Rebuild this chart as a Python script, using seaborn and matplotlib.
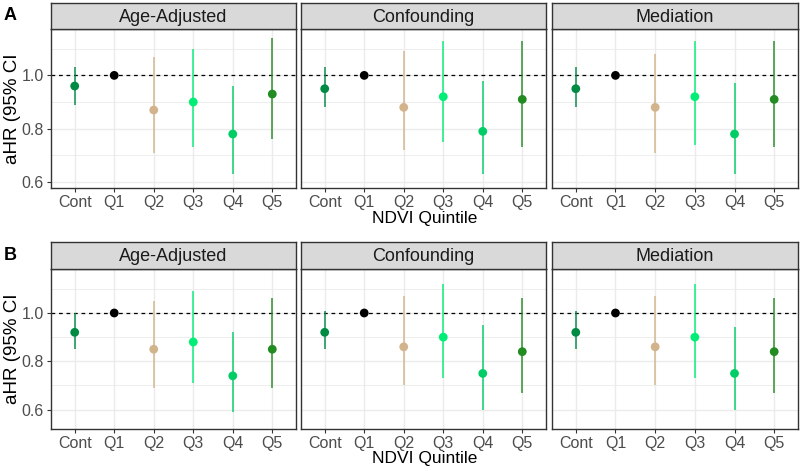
import pandas as pd
import matplotlib.pyplot as plt
import seaborn as sns
from matplotlib.ticker import MultipleLocator

sns.set_theme(style="white")
plt.rcParams["font.family"] = ["Liberation Sans", "DejaVu Sans"]

# ---------------------------------------------------------
# Data
# ---------------------------------------------------------
quintiles = ["Cont", "Q1", "Q2", "Q3", "Q4", "Q5"]
models = ["Age-Adjusted", "Confounding", "Mediation"]
colors = {"Cont": "#008B45", "Q1": "#000000", "Q2": "#D2B48C",
          "Q3": "#00EE76", "Q4": "#00CD66", "Q5": "#228B22"}

# panel A
a_age_hr = [0.96, 1.00, 0.87, 0.90, 0.78, 0.93]
a_age_lo = [0.89, 1.00, 0.71, 0.73, 0.63, 0.76]
a_age_hi = [1.03, 1.00, 1.07, 1.10, 0.96, 1.14]
a_conf_hr = [0.95, 1.00, 0.88, 0.92, 0.79, 0.91]
a_conf_lo = [0.88, 1.00, 0.72, 0.75, 0.63, 0.73]
a_conf_hi = [1.03, 1.00, 1.09, 1.13, 0.98, 1.13]
a_med_hr = [0.95, 1.00, 0.88, 0.92, 0.78, 0.91]
a_med_lo = [0.88, 1.00, 0.71, 0.74, 0.63, 0.73]
a_med_hi = [1.03, 1.00, 1.08, 1.13, 0.97, 1.13]

# panel B
b_age_hr = [0.92, 1.00, 0.85, 0.88, 0.74, 0.85]
b_age_lo = [0.85, 1.00, 0.69, 0.71, 0.59, 0.69]
b_age_hi = [1.00, 1.00, 1.05, 1.09, 0.92, 1.06]
b_conf_hr = [0.92, 1.00, 0.86, 0.90, 0.75, 0.84]
b_conf_lo = [0.85, 1.00, 0.70, 0.73, 0.60, 0.67]
b_conf_hi = [1.01, 1.00, 1.07, 1.12, 0.95, 1.06]
b_med_hr = [0.92, 1.00, 0.86, 0.90, 0.75, 0.84]
b_med_lo = [0.85, 1.00, 0.70, 0.73, 0.60, 0.67]
b_med_hi = [1.01, 1.00, 1.07, 1.12, 0.94, 1.06]

rows = []
for panel, sets in [("A", [(a_age_hr, a_age_lo, a_age_hi), (a_conf_hr, a_conf_lo, a_conf_hi),
                           (a_med_hr, a_med_lo, a_med_hi)]),
                    ("B", [(b_age_hr, b_age_lo, b_age_hi), (b_conf_hr, b_conf_lo, b_conf_hi),
                           (b_med_hr, b_med_lo, b_med_hi)])]:
    for model, (hr, lo, hi) in zip(models, sets):
        for q, h, l, u in zip(quintiles, hr, lo, hi):
            rows.append({"panel": panel, "model": model, "quintile": q, "hr": h, "lo": l, "hi": u})
df = pd.DataFrame(rows)

# ---------------------------------------------------------
# Layout (pixel positions in an 800x471 figure)
# ---------------------------------------------------------
W, H = 800, 471
fig = plt.figure(figsize=(W / 100, H / 100), dpi=100)
col_x = [(51, 296), (301, 546), (552, 798)]
row_y = {"A": (3, 29, 188, (0.5775, 1.174)), "B": (242, 269, 429, (0.52, 1.182))}

for panel, (strip_top, plot_top, plot_bot, ylim) in row_y.items():
    for j, model in enumerate(models):
        x0, x1 = col_x[j]
        ax = fig.add_axes([x0 / W, 1 - plot_bot / H, (x1 - x0) / W, (plot_bot - plot_top) / H])
        sub = df[(df["panel"] == panel) & (df["model"] == model)].reset_index(drop=True)
        pos = sub["quintile"].map({q: i for i, q in enumerate(quintiles)})

        ax.set_axisbelow(True)
        ax.axhline(1.0, color="black", linestyle=(0, (3, 3)), linewidth=0.9, zorder=1)
        ax.vlines(pos, sub["lo"], sub["hi"], colors=[colors[q] for q in sub["quintile"]],
                  linewidth=1.3, alpha=0.8, zorder=2)
        sns.scatterplot(x=pos, y=sub["hr"], hue=sub["quintile"], palette=colors,
                        s=40, edgecolor="none", legend=False, ax=ax, zorder=3)

        ax.set_xlim(-0.6, 5.6)
        ax.set_ylim(*ylim)
        ax.set_xticks(range(len(quintiles)))
        ax.set_xticklabels(quintiles)
        ax.yaxis.set_major_locator(MultipleLocator(0.2))
        ax.yaxis.set_minor_locator(MultipleLocator(0.1))
        ax.yaxis.set_major_formatter(plt.FuncFormatter(lambda v, p: f"{v:.1f}"))
        ax.grid(which="major", color="#EBEBEB", linewidth=1.0)
        ax.grid(which="minor", axis="y", color="#EBEBEB", linewidth=0.6)
        ax.tick_params(axis="both", which="major", length=3, width=0.8, color="#333333",
                       labelcolor="#4D4D4D", labelsize=11.5, pad=2, bottom=True, left=(j == 0))
        ax.tick_params(which="minor", length=0)
        if j > 0:
            ax.set_yticklabels([])
        ax.set_xlabel("")
        ax.set_ylabel("")
        for s in ax.spines.values():
            s.set_color("#333333")
            s.set_linewidth(1.0)

        # facet strip
        sax = fig.add_axes([x0 / W, 1 - plot_top / H, (x1 - x0) / W, (plot_top - strip_top) / H])
        sax.set_xticks([])
        sax.set_yticks([])
        sax.set_facecolor("#D9D9D9")
        for s in sax.spines.values():
            s.set_color("#333333")
            s.set_linewidth(1.0)
        sax.text(0.5, 0.45, model, ha="center", va="center", fontsize=13,
                 color="#1A1A1A", transform=sax.transAxes)

    # axis titles
    fig.text(13 / W, 1 - ((plot_top + plot_bot) / 2) / H, "aHR (95% CI", rotation=90,
             ha="center", va="center", fontsize=13.5, color="black")
    fig.text(424.5 / W, 1 - (plot_bot + 30) / H, "NDVI Quintile", ha="center", va="center",
             fontsize=12.5, color="black")
    fig.text(4 / W, 1 - (strip_top + 13) / H, panel, ha="left", va="center",
             fontsize=13, fontweight="bold", color="black")

fig.savefig("out.png", dpi=100)
